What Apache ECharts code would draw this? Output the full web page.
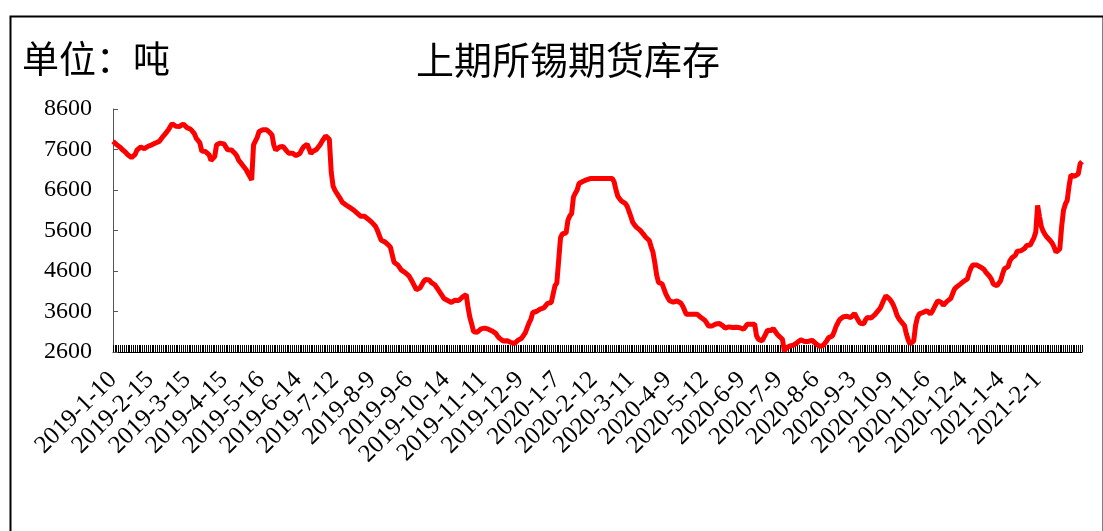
<!DOCTYPE html>
<html>
<head>
<meta charset="utf-8">
<script src="https://cdn.jsdelivr.net/npm/echarts@6/dist/echarts.min.js"></script>
<style>
html,body{margin:0;padding:0;background:#fff;}
#chart{width:1103px;height:531px;}
</style>
</head>
<body>
<div id="chart"></div>
<script>
// Tick labels shown every 20 trading days
const tickLabels = ['2019-1-10','2019-2-15','2019-3-15','2019-4-15','2019-5-16','2019-6-14','2019-7-12','2019-8-9','2019-9-6','2019-10-14','2019-11-11','2019-12-9','2020-1-7','2020-2-12','2020-3-11','2020-4-9','2020-5-12','2020-6-9','2020-7-9','2020-8-6','2020-9-3','2020-10-9','2020-11-6','2020-12-4','2021-1-4','2021-2-1'];

// Inventory (tons), one value per trading day, rows of 20 days
const inv00 = [7800,7760,7720,7680,7650,7600,7580,7520,7470,7440,7400,7370,7480,7590,7620,7660,7650,7620,7620,7680];
const inv01 = [7700,7716,7740,7760,7770,7800,7860,7920,7965,8030,8090,8170,8238,8200,8172,8172,8170,8172,8230,8190];
const inv02 = [8140,8120,8100,8090,7990,7880,7820,7758,7560,7550,7550,7520,7468,7330,7303,7427,7716,7740,7758,7750];
const inv03 = [7740,7700,7592,7590,7590,7592,7500,7440,7330,7280,7220,7180,7100,7014,6930,6848,7716,7740,7900,8047];
const inv04 = [8070,8090,8098,8090,8060,8010,7957,7700,7585,7620,7660,7670,7675,7675,7560,7510,7510,7510,7510,7450];
const inv05 = [7410,7500,7590,7660,7700,7730,7620,7500,7550,7585,7600,7600,7720,7800,7870,7935,7900,7850,7050,6700];
const inv06 = [6593,6520,6450,6380,6300,6270,6230,6200,6170,6139,6110,6070,6030,5990,5950,5940,5950,5920,5880,5860];
const inv07 = [5800,5760,5700,5600,5480,5360,5330,5320,5300,5240,5190,5187,4815,4780,4750,4733,4620,4590,4560,4520];
const inv08 = [4480,4400,4320,4230,4140,4113,4180,4212,4340,4390,4400,4380,4320,4294,4260,4237,4130,4060,3990,3920];
const inv09 = [3900,3870,3840,3823,3840,3880,3880,3870,3900,3960,3990,4014,3699,3451,3287,3100,3054,3090,3121,3170];
const inv10 = [3203,3190,3170,3163,3150,3120,3090,3060,2990,2940,2900,2873,2880,2880,2860,2840,2820,2806,2850,2890];
const inv11 = [2920,2940,2960,3080,3200,3320,3411,3575,3590,3600,3600,3660,3699,3690,3720,3800,3823,3823,3830,4237];
const inv12 = [4300,4330,5420,5518,5530,5535,5850,5960,6015,6427,6520,6600,6760,6790,6810,6816,6850,6880,6883,6883];
const inv13 = [6883,6883,6883,6883,6883,6883,6883,6883,6883,6883,6883,6800,6600,6444,6380,6327,6300,6270,6200,6080];
const inv14 = [5950,5807,5740,5683,5640,5610,5590,5500,5435,5390,5353,5200,5063,4800,4500,4319,4300,4280,4150,4031];
const inv15 = [3940,3865,3840,3830,3823,3860,3882,3810,3741,3640,3535,3530,3530,3530,3530,3530,3530,3490,3451,3420];
const inv16 = [3386,3320,3245,3245,3245,3260,3290,3302,3302,3302,3240,3187,3200,3220,3210,3203,3203,3210,3220,3200];
const inv17 = [3170,3163,3220,3287,3287,3287,3287,3287,3000,2915,2890,2873,2900,3050,3138,3140,3130,3180,3203,3050];
const inv18 = [2997,2950,2915,2620,2700,2749,2749,2749,2770,2800,2832,2870,2900,2915,2860,2832,2860,2880,2890,2850];
const inv19 = [2810,2780,2740,2707,2760,2806,2880,2955,2980,2997,3100,3230,3320,3400,3435,3470,3493,3480,3460,3451];
const inv20 = [3500,3550,3520,3380,3310,3270,3300,3400,3451,3450,3440,3435,3520,3580,3620,3690,3720,3900,3989,3950];
const inv21 = [3906,3840,3760,3640,3500,3420,3360,3330,3250,3050,2900,2800,2780,2873,3250,3451,3540,3575,3575,3575];
const inv22 = [3620,3600,3540,3600,3690,3780,3865,3840,3823,3750,3770,3850,3880,3920,3947,4150,4200,4240,4270,4310];
const inv23 = [4344,4370,4403,4560,4680,4750,4790,4750,4720,4700,4680,4640,4570,4520,4470,4400,4280,4237,4237,4280];
const inv24 = [4361,4520,4651,4680,4708,4850,4920,4950,4990,5090,5105,5100,5088,5160,5229,5229,5240,5330,5420,5560];
const inv25 = [6221,5950,5700,5580,5500,5440,5400,5340,5280,5180,5063,5100,5147,5700,6100,6250,6345,6700,6965,6950];
const inv26 = [6940,6960,7000,7250,7300];

const yTicks = [2600,3600,4600,5600,6600,7600,8600];

const values = [].concat(inv00,inv01,inv02,inv03,inv04,inv05,inv06,inv07,inv08,inv09,inv10,inv11,inv12,inv13,inv14,inv15,inv16,inv17,inv18,inv19,inv20,inv21,inv22,inv23,inv24,inv25,inv26);
const categories = values.map((v, i) => 'd' + i);

const chart = echarts.init(document.getElementById('chart'));
chart.setOption({
  animation: false,
  backgroundColor: '#fff',
  graphic: [
    { type: 'rect', left: 8, top: 14, shape: { width: 1093, height: 540 }, style: { fill: 'none', stroke: '#000', lineWidth: 2 }, z: 10 },
    { type: 'text', left: 22, top: 40, style: { text: '单位：吨', font: '37px "Noto Sans CJK SC"', fill: '#000' } }
  ],
  title: {
    text: '上期所锡期货库存',
    left: 411,
    top: 36,
    textStyle: { fontFamily: 'Noto Sans CJK SC', fontSize: 38, fontWeight: 'normal', color: '#000' }
  },
  grid: { left: 113, right: 21, top: 109, bottom: 179, containLabel: false },
  xAxis: {
    type: 'category',
    data: categories,
    boundaryGap: false,
    axisLine: { lineStyle: { color: '#000', width: 1 } },
    axisTick: { show: true, inside: true, length: 7, interval: 0, lineStyle: { color: '#000', width: 1 } },
    axisLabel: {
      interval: 19,
      rotate: 45,
      margin: 24,
      fontFamily: 'Liberation Serif',
      fontSize: 25,
      color: '#000',
      formatter: function (v, i) { return (i % 20 === 0 && tickLabels[i / 20]) ? tickLabels[i / 20] : ''; }
    },
    splitLine: { show: false }
  },
  yAxis: {
    type: 'value',
    min: 2600,
    max: 8600,
    axisLine: { show: true, lineStyle: { color: '#555', width: 1 } },
    axisTick: { show: true, inside: true, length: 5, customValues: yTicks, lineStyle: { color: '#555' } },
    axisLabel: { customValues: yTicks, margin: 21, fontFamily: 'Liberation Serif', fontSize: 24, color: '#000', formatter: function (v) { return String(v); } },
    splitLine: { show: false }
  },
  series: [{
    type: 'line',
    data: values,
    showSymbol: false,
    symbol: 'none',
    lineStyle: { color: '#FF0000', width: 5 },
    z: 5
  }]
});
</script>
</body>
</html>
